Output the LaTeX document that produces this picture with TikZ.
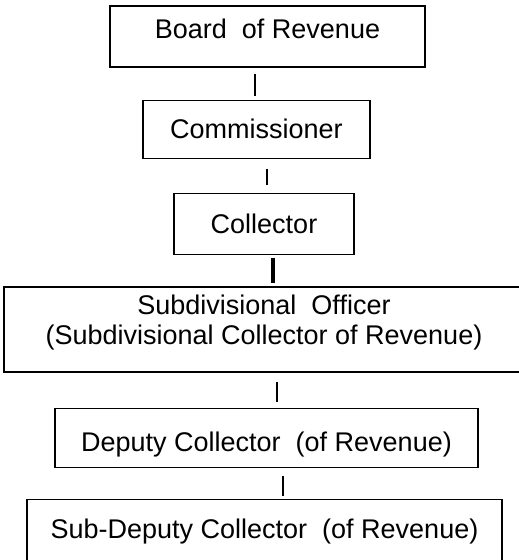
\documentclass[tikz,border=0pt]{standalone}
\usepackage{fontspec}
\setmainfont{Liberation Sans}
\usetikzlibrary{positioning}

\begin{document}
\begin{tikzpicture}[x=1pt, y=1pt, node distance=32pt, every node/.style={font=\fontsize{27}{30}\selectfont}]
\tikzset{post/.style={draw, line width=1.3pt, inner sep=0pt}}
\tikzset{link/.style={line width=1.5pt}}
\useasboundingbox (0,0) rectangle (519,-560);
\clip (0,0) rectangle (519,-560);
\node[post, minimum width=315pt, minimum height=61pt, text depth=15pt] (board) at (267.5,-36.5) {Board~ of Revenue};
\node[post, minimum width=227pt, minimum height=58pt, below=32pt of board, xshift=-11pt] (comm) {Commissioner};
\node[post, minimum width=180pt, minimum height=61pt, below=34pt of comm, xshift=7.5pt] (coll) {Collector};
\node[post, minimum width=520pt, minimum height=85pt, align=center, text depth=19pt, below=31pt of coll] (sdo) {Subdivisional~ Officer\\(Subdivisional Collector of Revenue)};
\node[post, minimum width=423pt, minimum height=59pt, text height=34pt, below=35pt of sdo, xshift=2.5pt] (dc) {Deputy Collector~ (of Revenue)};
\node[post, minimum width=475pt, minimum height=64pt, below=31pt of dc, xshift=-2pt] (sdc) {Sub-Deputy Collector~ (of Revenue)};
\draw[link] ([xshift=-12.5pt,yshift=-6pt]board.south) -- ([xshift=-1.5pt,yshift=4pt]comm.north);
\draw[link] ([xshift=10.5pt,yshift=-10pt]comm.south) -- ([xshift=3pt,yshift=8pt]coll.north);
\draw[link, line width=4pt] ([xshift=9pt,yshift=-3pt]coll.south) -- ([xshift=9pt,yshift=3pt]sdo.north);
\draw[link] ([xshift=13pt,yshift=-9pt]sdo.south) -- ([xshift=10.5pt,yshift=6pt]dc.north);
\draw[link] ([xshift=16.5pt,yshift=-8pt]dc.south) -- ([xshift=18.5pt,yshift=3pt]sdc.north);
\end{tikzpicture}
\end{document}
